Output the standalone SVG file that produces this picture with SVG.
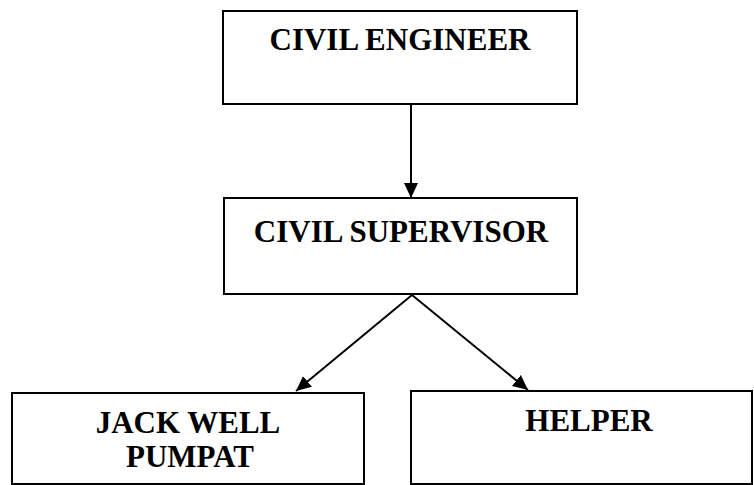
<svg xmlns="http://www.w3.org/2000/svg" width="754" height="485" viewBox="0 0 754 485">
<style>
.box{fill:#fff;stroke:#000;stroke-width:2}
.lbl{font-family:"Liberation Serif","Times New Roman",serif;font-weight:bold;font-size:31px;fill:#000;text-anchor:middle}
.con{stroke:#000;stroke-width:2;fill:none}
</style>
<defs>
<marker id="arr" markerUnits="userSpaceOnUse" markerWidth="16" markerHeight="16" viewBox="0 0 16 16" refX="15" refY="8" orient="auto">
<path d="M0,1 L15,8 L0,15 Z" fill="#000"/>
</marker>
</defs>
<rect width="754" height="485" fill="#fff"/>
<g id="civil-engineer">
<rect class="box" x="223" y="11" width="354" height="93"/>
<text class="lbl" x="400" y="50">CIVIL ENGINEER</text>
</g>
<g id="civil-supervisor">
<rect class="box" x="224" y="198" width="353" height="96"/>
<text class="lbl" x="401" y="242">CIVIL SUPERVISOR</text>
</g>
<g id="jack-well">
<rect class="box" x="12" y="393" width="352" height="91"/>
<text class="lbl" x="188" y="433">JACK WELL</text>
<text class="lbl" x="190" y="467">PUMPAT</text>
</g>
<g id="helper">
<rect class="box" x="411" y="391" width="341" height="93"/>
<text class="lbl" x="589" y="431">HELPER</text>
</g>
<g id="connectors">
<line class="con" x1="411" y1="104" x2="411" y2="198" marker-end="url(#arr)"/>
<line class="con" x1="412" y1="295" x2="296" y2="391" marker-end="url(#arr)"/>
<line class="con" x1="412" y1="295" x2="528" y2="390" marker-end="url(#arr)"/>
</g>
</svg>
